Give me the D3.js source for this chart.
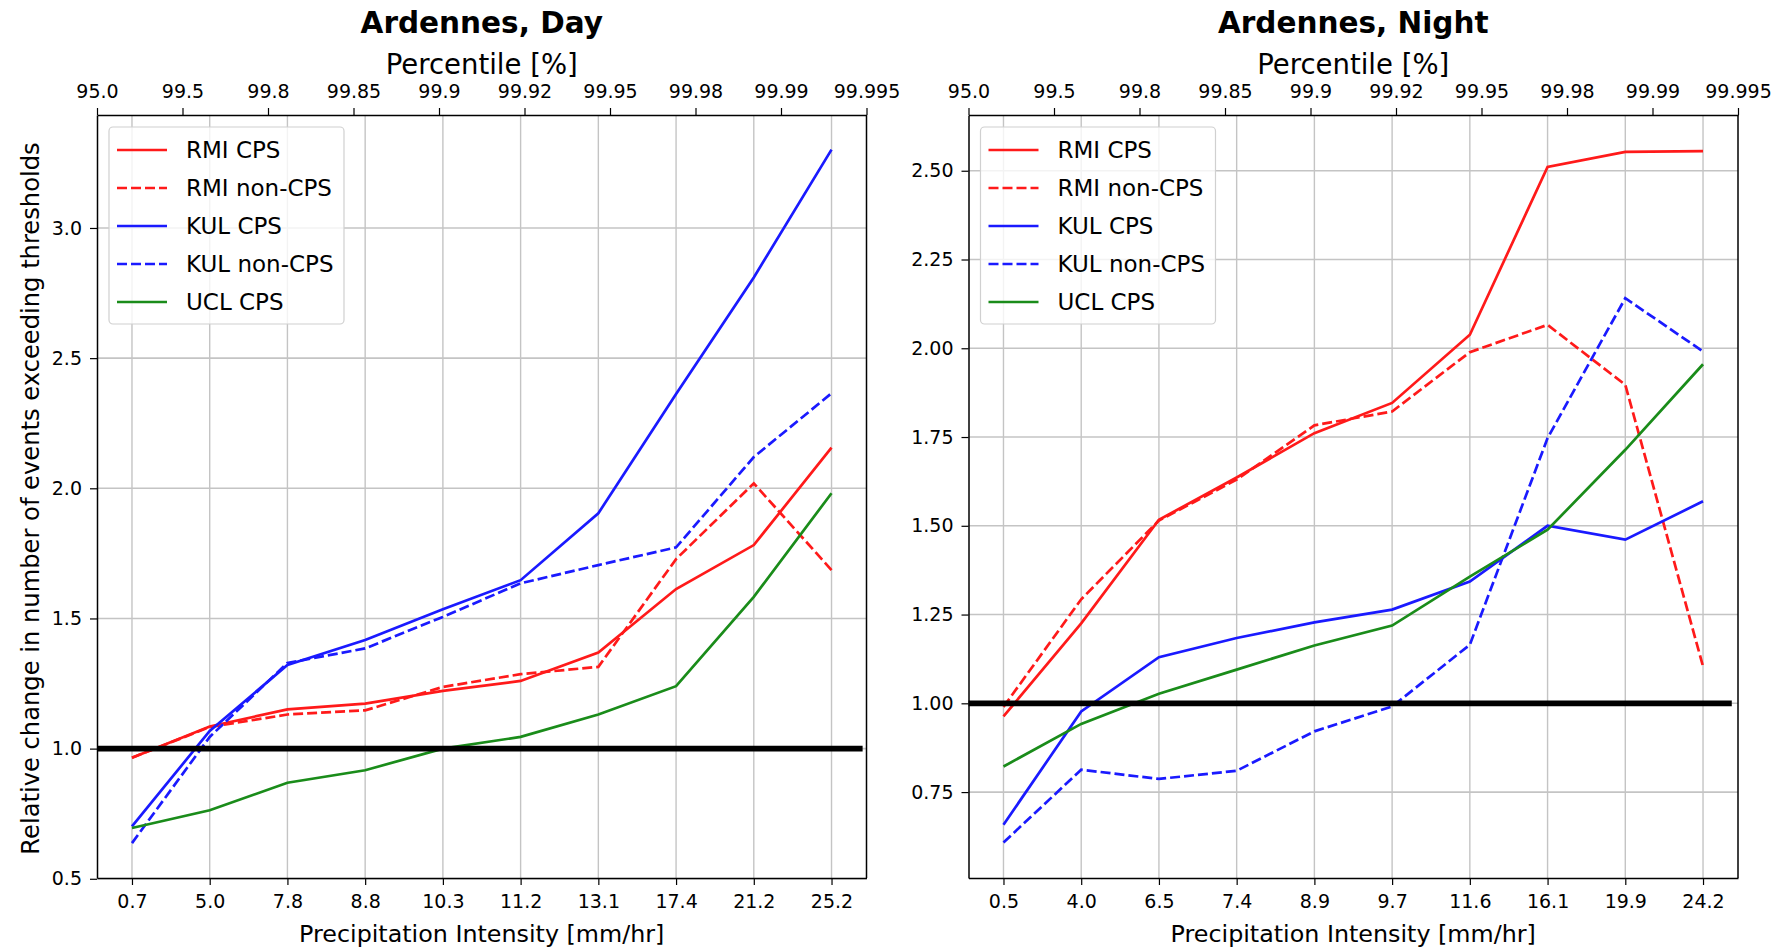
<!DOCTYPE html>
<html>
<head>
<meta charset="utf-8">
<script src="https://cdn.jsdelivr.net/npm/d3@7"></script>
<style>
  body { margin: 0; background: #fff; }
  text { font-family: "DejaVu Sans", sans-serif; fill: #000; }
</style>
</head>
<body>
<div id="chart"></div>
<script>
// ---- data ----
const percentiles = ['95.0', '99.5', '99.8', '99.85', '99.9', '99.92', '99.95', '99.98', '99.99', '99.995'];
const dayIntensity = ['0.7', '5.0', '7.8', '8.8', '10.3', '11.2', '13.1', '17.4', '21.2', '25.2'];
const nightIntensity = ['0.5', '4.0', '6.5', '7.4', '8.9', '9.7', '11.6', '16.1', '19.9', '24.2'];
const seriesNames = ['RMI CPS', 'RMI non-CPS', 'KUL CPS', 'KUL non-CPS', 'UCL CPS'];

const dayRmiCps    = [0.965, 1.085, 1.151, 1.173, 1.222, 1.260, 1.369, 1.613, 1.782, 2.156];
const dayRmiNonCps = [0.965, 1.083, 1.131, 1.147, 1.237, 1.286, 1.314, 1.728, 2.019, 1.686];
const dayKulCps    = [0.701, 1.068, 1.321, 1.417, 1.535, 1.647, 1.904, 2.362, 2.810, 3.301];
const dayKulNonCps = [0.637, 1.045, 1.329, 1.385, 1.506, 1.635, 1.705, 1.773, 2.120, 2.365];
const dayUclCps    = [0.695, 0.763, 0.869, 0.917, 1.000, 1.045, 1.131, 1.240, 1.583, 1.981];

const nightRmiCps    = [0.963, 1.225, 1.517, 1.636, 1.761, 1.846, 2.038, 2.511, 2.553, 2.555];
const nightRmiNonCps = [0.990, 1.293, 1.515, 1.630, 1.783, 1.822, 1.989, 2.066, 1.897, 1.104];
const nightKulCps    = [0.658, 0.977, 1.130, 1.184, 1.228, 1.264, 1.343, 1.500, 1.461, 1.569];
const nightKulNonCps = [0.608, 0.813, 0.787, 0.810, 0.921, 0.991, 1.165, 1.747, 2.141, 1.991];
const nightUclCps    = [0.822, 0.942, 1.027, 1.095, 1.163, 1.219, 1.357, 1.489, 1.714, 1.955];

const dayYTicks = [0.5, 1.0, 1.5, 2.0, 2.5, 3.0];
const nightYTicks = [0.75, 1.0, 1.25, 1.5, 1.75, 2.0, 2.25, 2.5];
const refLevel = 1.0;

// ---- style configs ----
const width = 1789;
const height = 949;
const plotTop = 115;
const plotBottom = 878;
const colors = ['#ff1a1a', '#ff1a1a', '#1a1aff', '#1a1aff', '#1a8c1a'];
const dashed = [false, true, false, true, false];
const tickLen = 7;
const lineWidth = 2.7;

const panels = [
  { title: 'Ardennes, Day', cats: dayIntensity, yDomain: [0.503, 3.434], yTicks: dayYTicks, fmt: d3.format('.1f'),
    x0: 97, x1: 866.5, refEnd: 9.40, ylabel: true,
    values: [dayRmiCps, dayRmiNonCps, dayKulCps, dayKulNonCps, dayUclCps] },
  { title: 'Ardennes, Night', cats: nightIntensity, yDomain: [0.508, 2.657], yTicks: nightYTicks, fmt: d3.format('.2f'),
    x0: 968.5, x1: 1738, refEnd: 9.37, ylabel: false,
    values: [nightRmiCps, nightRmiNonCps, nightKulCps, nightKulNonCps, nightUclCps] }
];

const svg = d3.select('#chart').append('svg')
  .attr('width', width)
  .attr('height', height);

const drawPanel = (p, k) => {
  const x = d3.scalePoint().domain(d3.range(p.cats.length)).range([p.x0, p.x1]).padding(0.45);
  const xTop = d3.scalePoint().domain(d3.range(percentiles.length)).range([p.x0, p.x1]);
  const y = d3.scaleLinear().domain(p.yDomain).range([plotBottom, plotTop]);
  // continuous helper for the reference line extent
  const xc = d3.scaleLinear().domain([-0.45, p.cats.length - 1 + 0.45]).range([p.x0, p.x1]);

  const g = svg.append('g');

  g.append('clipPath').attr('id', 'clip' + k)
    .append('rect')
    .attr('x', p.x0).attr('y', plotTop)
    .attr('width', p.x1 - p.x0).attr('height', plotBottom - plotTop);

  // grid
  g.append('g').selectAll('line')
    .data(d3.range(p.cats.length))
    .enter().append('line')
    .attr('x1', d => x(d)).attr('x2', d => x(d))
    .attr('y1', plotTop).attr('y2', plotBottom)
    .attr('stroke', '#c4c4c4').attr('stroke-width', 1.4);

  g.append('g').selectAll('line')
    .data(p.yTicks)
    .enter().append('line')
    .attr('x1', p.x0).attr('x2', p.x1)
    .attr('y1', d => y(d)).attr('y2', d => y(d))
    .attr('stroke', '#c4c4c4').attr('stroke-width', 1.6);

  // series
  const line = d3.line()
    .x((d, i) => x(i))
    .y(d => y(d));

  g.append('g').attr('clip-path', `url(#clip${k})`)
    .selectAll('path')
    .data(p.values)
    .enter().append('path')
    .attr('d', d => line(d))
    .attr('fill', 'none')
    .attr('stroke', (d, i) => colors[i])
    .attr('stroke-width', lineWidth)
    .attr('stroke-dasharray', (d, i) => dashed[i] ? '10,4' : null);

  // reference line at 1
  g.append('line')
    .attr('clip-path', `url(#clip${k})`)
    .attr('x1', xc(-0.5)).attr('x2', xc(p.refEnd))
    .attr('y1', y(refLevel)).attr('y2', y(refLevel))
    .attr('stroke', '#000').attr('stroke-width', 5.8);

  // axes
  const styleAxis = sel => {
    sel.attr('font-family', '"DejaVu Sans", sans-serif').attr('font-size', 19);
    sel.selectAll('path.domain').attr('stroke', '#000').attr('stroke-width', 1.5);
    sel.selectAll('.tick line').attr('stroke', '#000').attr('stroke-width', 1.2);
    sel.selectAll('.tick text').attr('fill', '#111');
  };

  g.append('g')
    .attr('transform', `translate(0,${plotBottom})`)
    .call(d3.axisBottom(x).tickFormat(i => p.cats[i]).tickSize(tickLen).tickSizeOuter(0).tickPadding(10))
    .call(styleAxis);

  g.append('g')
    .attr('transform', `translate(0,${plotTop})`)
    .call(d3.axisTop(xTop).tickFormat(i => percentiles[i]).tickSize(tickLen).tickSizeOuter(0).tickPadding(10))
    .call(styleAxis);

  g.append('g')
    .attr('transform', `translate(${p.x0},0)`)
    .call(d3.axisLeft(y).tickValues(p.yTicks).tickFormat(p.fmt).tickSize(tickLen).tickSizeOuter(0).tickPadding(8))
    .call(styleAxis);

  g.append('line')
    .attr('x1', p.x1).attr('x2', p.x1)
    .attr('y1', plotTop).attr('y2', plotBottom)
    .attr('stroke', '#000').attr('stroke-width', 1.5);

  // titles and labels
  const cx = (p.x0 + p.x1) / 2;
  g.append('text')
    .attr('x', cx).attr('y', 33)
    .attr('text-anchor', 'middle')
    .attr('font-size', 29.5).attr('font-weight', 'bold')
    .text(p.title);

  g.append('text')
    .attr('x', cx).attr('y', 74)
    .attr('text-anchor', 'middle')
    .attr('font-size', 27.5).attr('fill', '#111')
    .text('Percentile [%]');

  g.append('text')
    .attr('x', cx).attr('y', 942)
    .attr('text-anchor', 'middle')
    .attr('font-size', 23.8).attr('fill', '#111')
    .text('Precipitation Intensity [mm/hr]');

  if (p.ylabel) {
    g.append('text')
      .attr('transform', `translate(39,${(plotTop + plotBottom) / 2 + 2}) rotate(-90)`)
      .attr('text-anchor', 'middle')
      .attr('font-size', 24.2).attr('fill', '#111')
      .text('Relative change in number of events exceeding thresholds');
  }

  // legend
  const lx = p.x0 + 12;
  const ly = 127;
  const leg = g.append('g');
  leg.append('rect')
    .attr('x', lx).attr('y', ly)
    .attr('width', 235).attr('height', 197)
    .attr('rx', 4)
    .attr('fill', '#fff').attr('fill-opacity', 0.8)
    .attr('stroke', '#d0d0d0').attr('stroke-width', 1.2);

  const item = leg.selectAll('g.item')
    .data(seriesNames)
    .enter().append('g')
    .attr('class', 'item')
    .attr('transform', (d, i) => `translate(${lx},${ly + 23 + i * 38})`);

  item.append('line')
    .attr('x1', 8).attr('x2', 58)
    .attr('stroke', (d, i) => colors[i])
    .attr('stroke-width', lineWidth)
    .attr('stroke-dasharray', (d, i) => dashed[i] ? '10,4' : null);

  item.append('text')
    .attr('x', 77).attr('dy', '0.35em')
    .attr('font-size', 23).attr('fill', '#1a1a1a')
    .text(d => d);
};

panels.forEach(drawPanel);
</script>
</body>
</html>
